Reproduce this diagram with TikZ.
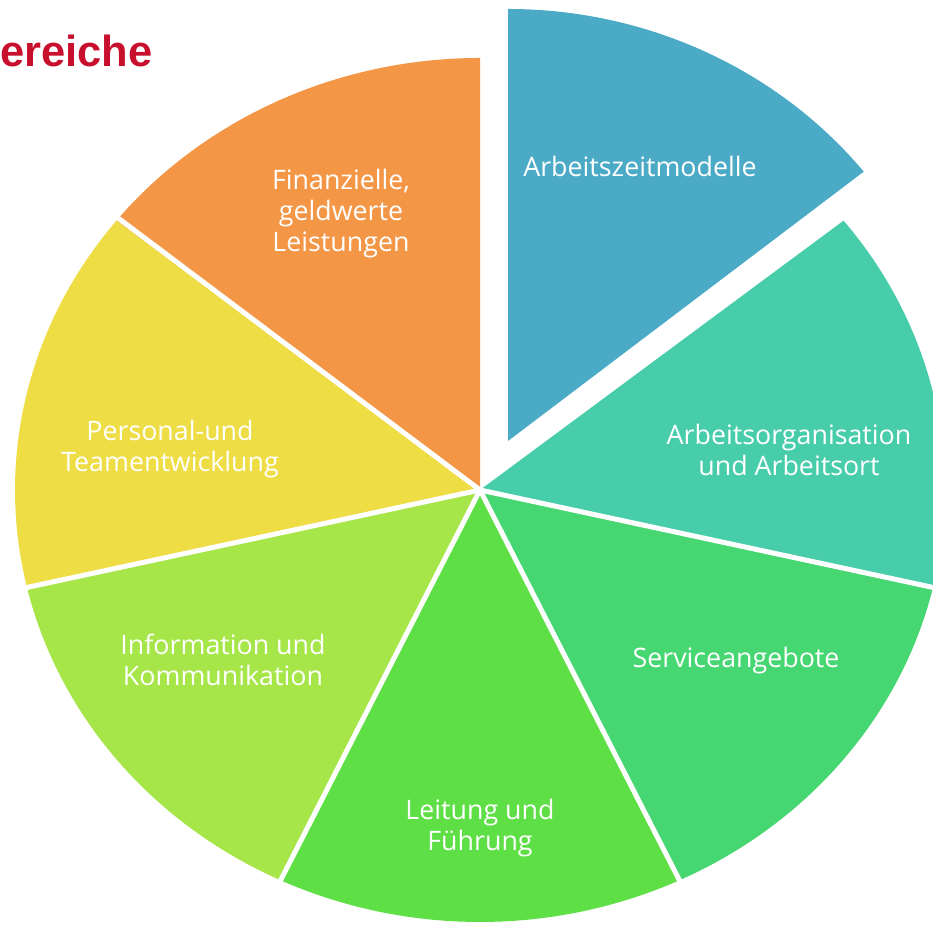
\documentclass[tikz,border=0pt]{standalone}
\usepackage{fontspec}
\newfontfamily\lblfont{Open Sans}
\newfontfamily\titlefont{Liberation Sans}
\usetikzlibrary{calc}
\definecolor{cOrange}{RGB}{243,150,70}
\definecolor{cBlue}{RGB}{75,170,198}
\definecolor{cTeal}{RGB}{72,205,171}
\definecolor{cService}{RGB}{70,214,114}
\definecolor{cLeitung}{RGB}{94,223,69}
\definecolor{cLime}{RGB}{166,230,72}
\definecolor{cYellow}{RGB}{238,221,68}
\definecolor{cTitle}{RGB}{200,16,46}
\tikzset{
  lbl/.style={text=white, align=center, inner sep=0pt, font=\lblfont\fontsize{26.8}{31}\selectfont},
  sep/.style={draw=white, line width=5pt},
}
\begin{document}
\begin{tikzpicture}[x=1pt,y=1pt]
\clip (0,0) rectangle (933,928);
\fill[white] (0,0) rectangle (933,928);
\coordinate (C) at (480,438);
\coordinate (CB) at (508,487);
% sectors
\fill[cOrange] (C) -- ($(C)+(90:465 and 432)$) arc[start angle=90, end angle=141.43, x radius=465, y radius=432] -- cycle;
\fill[cYellow] (C) -- ($(C)+(141.43:465 and 432)$) arc[start angle=141.43, end angle=192.86, x radius=465, y radius=432] -- cycle;
\fill[cLime] (C) -- ($(C)+(192.86:465 and 432)$) arc[start angle=192.86, end angle=244.29, x radius=465, y radius=432] -- cycle;
\fill[cLeitung] (C) -- ($(C)+(244.29:465 and 432)$) arc[start angle=244.29, end angle=295.71, x radius=465, y radius=432] -- cycle;
\fill[cService] (C) -- ($(C)+(295.71:465 and 432)$) arc[start angle=295.71, end angle=347.14, x radius=465, y radius=432] -- cycle;
\fill[cTeal] (C) -- ($(C)+(-12.86:465 and 432)$) arc[start angle=-12.86, end angle=38.57, x radius=465, y radius=432] -- cycle;
\fill[cBlue] (CB) -- ($(CB)+(38.57:455 and 432)$) arc[start angle=38.57, end angle=90, x radius=455, y radius=432] -- cycle;
% separators
\foreach \a in {141.43,192.86,244.29,295.71,347.14}
  \draw[sep] (C) -- ($(C)+(\a:520 and 490)$);
% labels
\node[lbl] (t1) at (640,762) {Arbeitszeitmodelle};
\node[lbl] (t2) at (341,714) {Finanzielle,\\geldwerte\\Leistungen};
\node[lbl] (t3) at (170,479) {Personal-und\\Teamentwicklung};
\node[lbl] (t4) at (789,478) {Arbeitsorganisation\\und Arbeitsort};
\node[lbl] (t5) at (223,268) {Information und\\Kommunikation};
\node[lbl] (t6) at (736,267) {Serviceangebote};
\node[lbl] (t7) at (480,100) {Leitung und\\Führung};
\node[anchor=base west, inner sep=0pt, text=cTitle, font=\titlefont\bfseries\fontsize{43.5}{48}\selectfont] (title) at (0,861) {ereiche};
\end{tikzpicture}
\end{document}
